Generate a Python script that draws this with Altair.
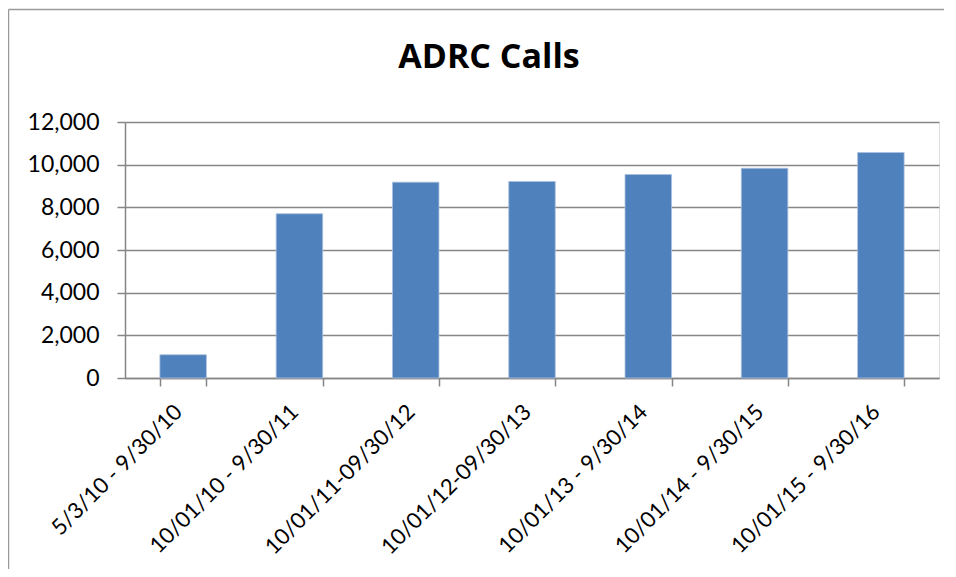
import altair as alt
import pandas as pd

categories = [
    "5/3/10 - 9/30/10",
    "10/01/10 - 9/30/11",
    "10/01/11-09/30/12",
    "10/01/12-09/30/13",
    "10/01/13 - 9/30/14",
    "10/01/14 - 9/30/15",
    "10/01/15 - 9/30/16",
]
calls = [1090, 7700, 9180, 9210, 9540, 9830, 10570]
y_ticks = [0, 2000, 4000, 6000, 8000, 10000, 12000]

df = pd.DataFrame({"period": categories, "calls": calls})

GRAY = "#868686"
FONT = "Lato"

bars = alt.Chart(df).mark_bar(color="#4F81BD", stroke="#A9C0DE", strokeWidth=0.8).encode(
    x=alt.X(
        "period:N",
        sort=categories,
        title=None,
        scale=alt.Scale(paddingInner=0.6, paddingOuter=0.3),
        axis=alt.Axis(
            labelAngle=-45,
            labelAlign="right",
            labelBaseline="middle",
            labelPadding=22,
            labelOffset=-5,
            labelFont=FONT,
            labelFontSize=22,
            labelColor="black",
            labelLimit=0,
            tickBand="extent",
            tickSize=8,
            tickColor=GRAY,
            tickWidth=1.5,
            domainColor=GRAY,
            domainWidth=1.5,
            grid=False,
            labelOverlap=False,
        ),
    ),
    y=alt.Y(
        "calls:Q",
        title=None,
        scale=alt.Scale(domain=[0, 12000], nice=False),
        axis=alt.Axis(
            values=y_ticks,
            format=",.0f",
            labelFont=FONT,
            labelFontSize=23,
            labelColor="black",
            labelPadding=18,
            tickSize=8,
            tickColor=GRAY,
            tickWidth=1.5,
            domainColor=GRAY,
            domainWidth=1.5,
            gridColor=GRAY,
            gridWidth=1.5,
        ),
    ),
)

one = alt.Data(values=[{"k": 1}])
border_left = alt.Chart(one).mark_rule(color="#9a9a9a", strokeWidth=1.5).encode(
    x=alt.value(-116.5), y=alt.value(-112.5), y2=alt.value(447)
)
border_top = alt.Chart(one).mark_rule(color="#9a9a9a", strokeWidth=1.5).encode(
    x=alt.value(-116.5), x2=alt.value(819), y=alt.value(-112.5)
)

chart = (
    alt.layer(bars, border_left, border_top)
    .properties(
        width=814,
        height=256,
        autosize=alt.AutoSizeParams(type="none"),
        padding={"left": 117, "top": 114, "right": 5, "bottom": 191},
        title=alt.TitleParams(
            "ADRC Calls",
            font="Open Sans",
            fontSize=34,
            fontWeight="bold",
            color="black",
            anchor="middle",
            frame="group",
            dx=-43,
            baseline="alphabetic",
            offset=0,
            dy=93,
        ),
    )
    .configure_view(stroke=None)
    .configure(background="white")
)

chart.save("out.html", embed_options={"renderer": "svg", "actions": False})
